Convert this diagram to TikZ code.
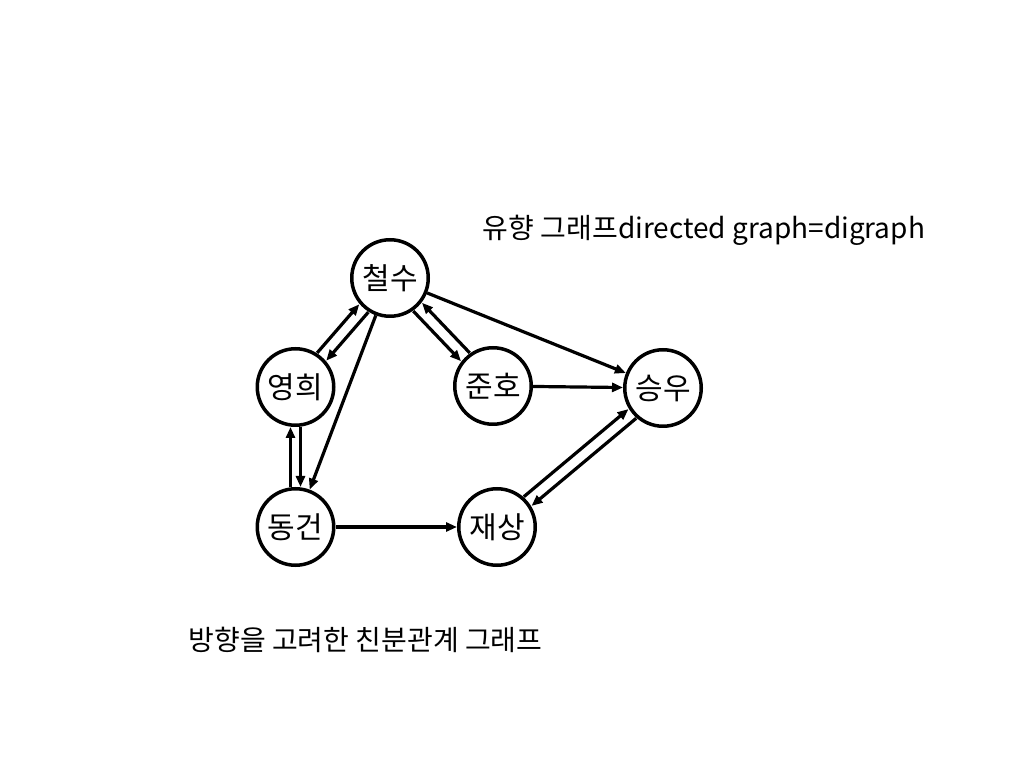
\documentclass[tikz,border=0pt]{standalone}
\usepackage{fontspec}
\setmainfont{Noto Sans CJK KR}
\usetikzlibrary{arrows.meta,calc}
\begin{document}
\begin{tikzpicture}[x=1pt,y=1pt,
  person/.style={circle,draw=black,line width=3.5pt,minimum size=76.5pt,inner sep=0pt,font=\fontsize{30}{34}\selectfont},
  edge/.style={line width=3.2pt,-{Triangle[length=11pt,width=9pt]}},
  pairedge/.style={edge,shorten <=40pt,shorten >=40pt},
  caption/.style={font=\fontsize{28}{32}\selectfont,inner sep=0pt}]
\useasboundingbox (0,0) rectangle (1024,768);
\node[person] (cs) at (390,490) {철수};
\node[person] (yh) at (295.5,381) {영희};
\node[person] (jh) at (493,382) {준호};
\node[person] (sw) at (663,380) {승우};
\node[person] (dg) at (295.5,241) {동건};
\node[person] (js) at (497,241) {재상};
% pairs
\draw[pairedge] ($(yh)!6pt!90:(cs)$) -- ($(cs)!6pt!-90:(yh)$);
\draw[pairedge] ($(cs)!6pt!90:(yh)$) -- ($(yh)!6pt!-90:(cs)$);
\draw[pairedge] ($(cs)!6pt!-90:(jh)$) -- ($(jh)!6pt!90:(cs)$);
\draw[pairedge] ($(jh)!6pt!-90:(cs)$) -- ($(cs)!6pt!90:(jh)$);
\draw[pairedge] ($(dg)!5pt!90:(yh)$) -- ($(yh)!5pt!-90:(dg)$);
\draw[pairedge] ($(yh)!5pt!90:(dg)$) -- ($(dg)!5pt!-90:(yh)$);
\draw[pairedge] ($(js)!6pt!90:(sw)$) -- ($(sw)!6pt!-90:(js)$);
\draw[pairedge] ($(sw)!6pt!90:(js)$) -- ($(js)!6pt!-90:(sw)$);
% singles
\draw[edge] (cs) -- (sw);
\draw[edge] (cs) -- (dg);
\draw[edge] (jh) -- (sw);
\draw[edge] (dg) -- (js);
\node[caption] (t1) at (704,538) {유향 그래프directed graph=digraph};
\node[caption] (t2) at (365.5,128) {방향을 고려한 친분관계 그래프};
\end{tikzpicture}
\end{document}
